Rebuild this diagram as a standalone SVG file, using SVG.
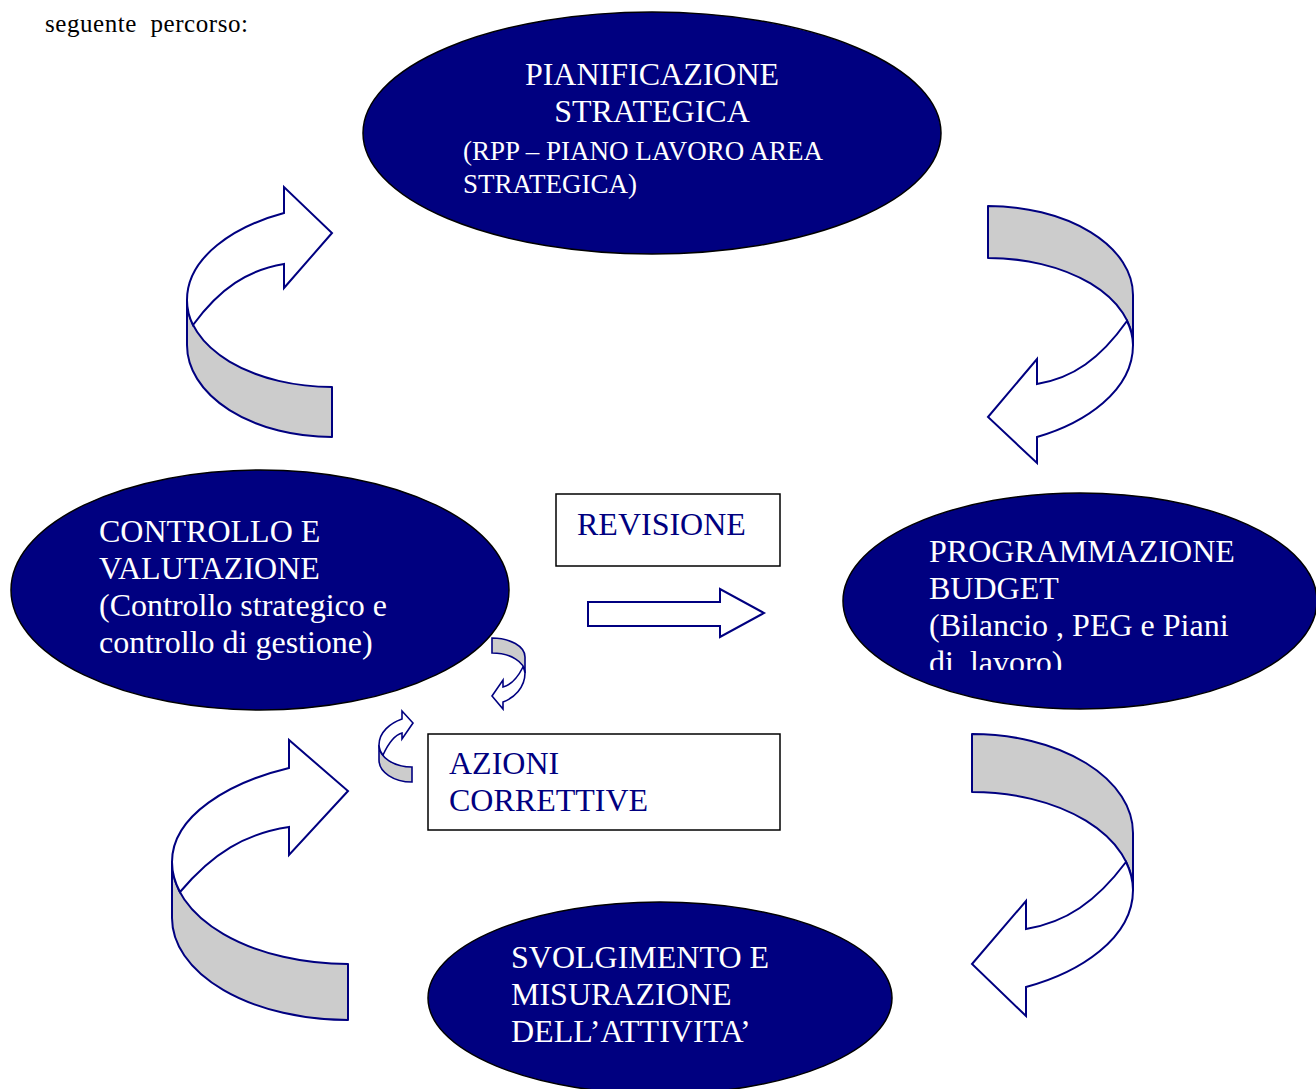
<svg xmlns="http://www.w3.org/2000/svg" width="1316" height="1089" viewBox="0 0 1316 1089">
<style>
.ell{fill:#000080;stroke:#000;stroke-width:1.5}
.box{fill:#fff;stroke:#000;stroke-width:1.5}
.wt{fill:#fff;font-family:"Liberation Serif","Times New Roman",serif;font-size:32px}
.ws{fill:#fff;font-family:"Liberation Serif","Times New Roman",serif;font-size:27px}
.nt{fill:#000080;font-family:"Liberation Serif","Times New Roman",serif;font-size:32px}
.bt{fill:#000;font-family:"Liberation Serif","Times New Roman",serif;font-size:25px}
.g{fill:#cccccc;stroke:#000080;stroke-width:2;stroke-linejoin:round}
.w{fill:#fff;stroke:#000080;stroke-width:2;stroke-linejoin:miter}
.gs{fill:#cccccc;stroke:#000080;stroke-width:1.6}
.ws2{fill:#fff;stroke:#000080;stroke-width:1.6}
</style>
<defs>
<clipPath id="clipR"><rect x="900" y="520" width="400" height="150"/></clipPath>
</defs>
<text class="bt" x="45" y="32" textLength="203" lengthAdjust="spacing" xml:space="preserve">seguente  percorso:</text>

<g id="connectors">
<g id="arrow-tl">
<path class="g" d="M187,300 A145,87 0 0 0 332,387 L332,437 A145,92 0 0 1 187,345 Z"/>
<path class="w" d="M284,213 C235.5,226 187,256.5 187,300 A145,87 0 0 0 193,325 C220,288 248,270 284,264 L284,288 L332,233 L284,187 Z"/>
</g>
<g id="arrow-tr" transform="matrix(-1 0 0 -1 2121 669)">
<path class="g" d="M988,324 A145,87 0 0 0 1133,411 L1133,463 A145,89 0 0 1 988,374 Z"/>
<path class="w" d="M1084,232 C1036,246 988,278 988,324 A145,87 0 0 0 994,348 C1021,310 1048,291 1084,285 L1084,310 L1133,252 L1084,206 Z"/>
</g>
<g id="arrow-br" transform="matrix(-1 0 0 -1 2105 1750)">
<path class="g" d="M972,860 A161,98 0 0 0 1133,958 L1133,1016 A161,99 0 0 1 972,917 Z"/>
<path class="w" d="M1079,763 C1025.5,777.5 972,811.5 972,860 A161,98 0 0 0 979,888 C1009,848 1039,827.7 1079,821 L1079,849 L1133,786 L1079,734 Z"/>
</g>
<g id="arrow-bl">
<path class="g" d="M172,862 A176,102 0 0 0 348,964 L348,1020 A176,102 0 0 1 172,918 Z"/>
<path class="w" d="M289,768 C230.5,782 172,815 172,862 A176,102 0 0 0 180,892 C212.7,853 245.4,833.5 289,827 L289,855 L348,791 L289,740 Z"/>
</g>
<g id="arrow-small-1" transform="matrix(-1 0 0 -1 1017 1347)">
<path class="gs" d="M492,674 A33,20 0 0 0 525,694 L525,709 A33,19 0 0 1 492,690 Z"/>
<path class="ws2" d="M514,645 C503,649 492,659.5 492,674 A33,20 0 0 0 494,680 C500,668 506,662 514,660 L514,667 L525,651 L514,638 Z"/>
</g>
<g id="arrow-small-2">
<path class="gs" d="M379,745 A33,22 0 0 0 412,767 L412,782 A33,22 0 0 1 379,760 Z"/>
<path class="ws2" d="M402,719 C390.5,723 379,732 379,745 A33,22 0 0 0 383,755 C389,742 394.4,735 402,733 L402,739 L413,723 L402,711 Z"/>
</g>
<g id="arrow-revisione">
<path class="w" d="M588,602 L720,602 L720,589 L764,613 L720,637 L720,626 L588,626 Z"/>
</g>
</g>

<g id="node-pianificazione">
<ellipse class="ell" cx="652" cy="133" rx="289" ry="121"/>
<text class="wt" x="652" y="85" text-anchor="middle">PIANIFICAZIONE</text>
<text class="wt" x="652" y="122" text-anchor="middle">STRATEGICA</text>
<text class="ws" x="463" y="160">(RPP – PIANO LAVORO AREA</text>
<text class="ws" x="463" y="193">STRATEGICA)</text>
</g>

<g id="node-programmazione">
<ellipse class="ell" cx="1080" cy="601" rx="237" ry="108"/>
<g clip-path="url(#clipR)">
<text class="wt" x="929" y="562">PROGRAMMAZIONE</text>
<text class="wt" x="929" y="599">BUDGET</text>
<text class="wt" x="929" y="636">(Bilancio , PEG e Piani</text>
<text class="wt" x="929" y="673" xml:space="preserve">di  lavoro)</text>
</g>
</g>

<g id="node-controllo">
<ellipse class="ell" cx="260" cy="590" rx="249" ry="120"/>
<text class="wt" x="99" y="542">CONTROLLO E</text>
<text class="wt" x="99" y="579">VALUTAZIONE</text>
<text class="wt" x="99" y="616">(Controllo strategico e</text>
<text class="wt" x="99" y="653">controllo di gestione)</text>
</g>

<g id="node-svolgimento">
<ellipse class="ell" cx="660" cy="998" rx="232" ry="96"/>
<text class="wt" x="511" y="968">SVOLGIMENTO E</text>
<text class="wt" x="511" y="1005">MISURAZIONE</text>
<text class="wt" x="511" y="1042">DELL’ATTIVITA’</text>
</g>

<g id="node-revisione">
<rect class="box" x="556" y="494" width="224" height="72"/>
<text class="nt" x="577" y="535">REVISIONE</text>
</g>

<g id="node-azioni">
<rect class="box" x="428" y="734" width="352" height="96"/>
<text class="nt" x="449" y="774">AZIONI</text>
<text class="nt" x="449" y="811">CORRETTIVE</text>
</g>
</svg>
